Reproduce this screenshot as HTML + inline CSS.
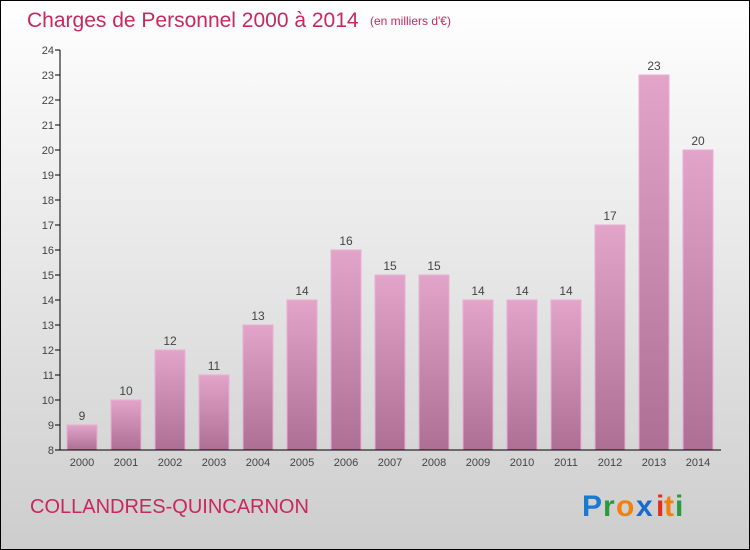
<!DOCTYPE html>
<html><head><meta charset="utf-8"><style>
body{margin:0;width:750px;height:550px;overflow:hidden}
svg{display:block}
text{font-family:"Liberation Sans",sans-serif}
</style></head><body>
<svg width="750" height="550">
<defs>
<linearGradient id="bg" x1="0" y1="0" x2="0" y2="1"><stop offset="0" stop-color="#ffffff"/><stop offset="1" stop-color="#cdcdcd"/></linearGradient>
<linearGradient id="bar" x1="0" y1="0" x2="0" y2="1"><stop offset="0" stop-color="#e2a4c9"/><stop offset="1" stop-color="#ad6f93"/></linearGradient>
</defs>
<rect x="0.5" y="0.5" width="749" height="549" fill="url(#bg)" stroke="#000"/>
<text x="27" y="27" font-size="21" fill="#c8285e">Charges de Personnel 2000 à 2014</text>
<text x="370" y="25" font-size="12" fill="#c8285e">(en milliers d'€)</text>
<g id="plot"></g>
<text x="30" y="513" font-size="20" fill="#c8285e">COLLANDRES-QUINCARNON</text>
<g font-size="30" font-weight="bold">
<text x="582" y="516" fill="#1a7ad0">P</text><text x="603" y="516" fill="#2a9a3a">r</text><text x="616" y="516" fill="#f08010">o</text><text x="636" y="516" fill="#1a6ad0">x</text><text x="656" y="516" fill="#e03020">i</text><text x="664" y="516" fill="#f08010">t</text><text x="675" y="516" fill="#2a9a3a">i</text>
</g>
</svg>
<script>
const years=["2000","2001","2002","2003","2004","2005","2006","2007","2008","2009","2010","2011","2012","2013","2014"];
const values=[9,10,12,11,13,14,16,15,15,14,14,14,17,23,20];
const yTicks=[8,9,10,11,12,13,14,15,16,17,18,19,20,21,22,23,24];
const NS="http://www.w3.org/2000/svg";
const g=document.getElementById('plot');
const y=v=>450-(v-8)*25;
const x=i=>82+i*44;
function el(t,a,txt){const e=document.createElementNS(NS,t);for(const k in a)e.setAttribute(k,a[k]);if(txt!=null)e.textContent=txt;g.appendChild(e);return e;}
yTicks.forEach(t=>{
const l=el('line',{x1:55,x2:60,y1:y(t),y2:y(t),stroke:'#000'});


const tx=el('text',{x:54,y:y(t)+4,'font-size':11,fill:'#444','text-anchor':'end'},t);


});
values.forEach((v,i)=>{
const r=el('rect',{x:x(i)-15,y:y(v),width:30,height:450-y(v),fill:'url(#bar)',stroke:'#e8b0d2','stroke-width':1});


const vl=el('text',{x:x(i),y:y(v)-5,'font-size':12,fill:'#444','text-anchor':'middle'},v);


const xl=el('text',{x:x(i),y:466,'font-size':11,fill:'#444','text-anchor':'middle'},years[i]);


});
const ya=el('line',{x1:60,x2:60,y1:50,y2:450,stroke:'#000'});


const xa=el('line',{x1:60,x2:721,y1:450,y2:450,stroke:'#000'});


</script>
</body></html>
